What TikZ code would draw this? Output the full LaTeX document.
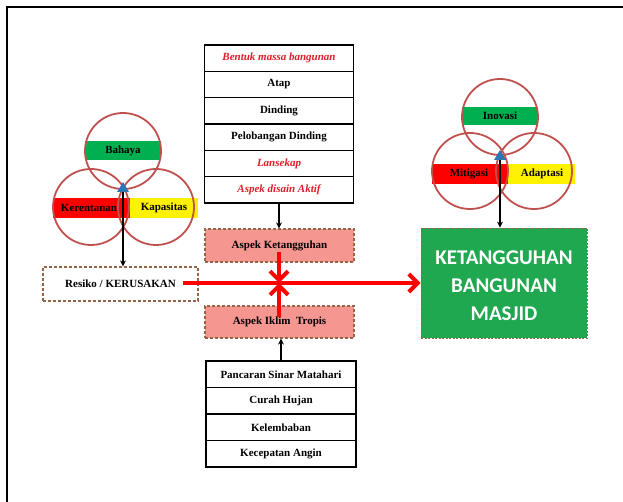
\documentclass[tikz,border=0pt]{standalone}
\usepackage{fontspec}
\setmainfont{Liberation Serif}
\newfontfamily\calib{Carlito}
\usetikzlibrary{arrows.meta}
\definecolor{circ}{RGB}{192,80,77}
\definecolor{redt}{RGB}{220,30,40}
\definecolor{salmon}{RGB}{245,150,145}
\definecolor{brn}{RGB}{150,100,70}
\definecolor{grn}{RGB}{0,176,80}
\definecolor{bgrn}{RGB}{32,168,80}
\definecolor{blu}{RGB}{46,117,182}
\tikzset{
  cell/.style={draw=black, line width=1.5, fill=white, minimum width=149, minimum height=26.33, inner sep=0, font=\bfseries\fontsize{11}{12}\selectfont},
  redcell/.style={cell, text=redt, font=\bfseries\itshape\fontsize{11}{12}\selectfont},
  pinkbox/.style={draw=brn, dash pattern=on 3pt off 2pt, line width=1.2, fill=salmon, minimum width=149, inner sep=0, font=\bfseries\fontsize{11}{12}\selectfont},
  blk/.style={draw=black, line width=1.3, -{Stealth[length=6pt,width=6pt]}},
  redarr/.style={draw=red, line width=4, -{Straight Barb[length=9pt,width=18pt]}},
  vc/.style={draw=circ, line width=1.8},
  lbl/.style={font=\bfseries\fontsize{11}{12}\selectfont, inner sep=0},
}
\begin{document}
\begin{tikzpicture}[x=1pt,y=-1pt]
\useasboundingbox (0,0) rectangle (623,502);
\draw[line width=2] (7,502) -- (7,7) -- (623,7);

% top stack
\node[redcell] (s1) at (279,58.17) {Bentuk massa bangunan};
\node[cell] (s2) at (279,84.5) {Atap};
\node[cell] (s3) at (279,110.83) {Dinding};
\node[cell] (s4) at (279,137.17) {Pelobangan Dinding};
\node[redcell] (s5) at (279,163.5) {Lansekap};
\node[redcell] (s6) at (279,189.83) {Aspek disain Aktif};

% pink boxes
\node[pinkbox, minimum height=33] (ket) at (279.5,245.5) {Aspek Ketangguhan};
\node[pinkbox, minimum height=32] (ikl) at (279.5,322) {Aspek Iklim~ Tropis};

% bottom stack
\node[cell, minimum width=150, minimum height=26.5] (b1) at (281,374.25) {Pancaran Sinar Matahari};
\node[cell, minimum width=150, minimum height=26.5] (b2) at (281,400.75) {Curah Hujan};
\node[cell, minimum width=150, minimum height=26.5] (b3) at (281,427.25) {Kelembaban};
\node[cell, minimum width=150, minimum height=26.5] (b4) at (281,453.75) {Kecepatan Angin};

\draw[blk] (s6.south) -- (s6.south |- ket.north);
\draw[blk] (b1.north) -- (b1.north |- ikl.south);

% resiko box
\node[draw=brn, dash pattern=on 3pt off 2pt, line width=1.2, fill=white, minimum width=155, minimum height=34, inner sep=0, font=\bfseries\fontsize{11}{12}\selectfont] (res) at (120.5,284) {Resiko / KERUSAKAN};

% green box
\node[draw=brn, dash pattern=on 2pt off 1.5pt, line width=0.8, fill=bgrn, minimum width=166, minimum height=110, inner sep=0] (grnbox) at (504,283) {};
\node[text=white, align=center, inner sep=0, font=\calib\bfseries\fontsize{21}{28}\selectfont] (gtxt) at (504,286) {KETANGGUHAN\\BANGUNAN\\MASJID};

% red arrows
\coordinate (x0) at (279,283);
\coordinate (kt) at (279,252);
\coordinate (ik) at (279,317);
\coordinate (rs) at (183,283);
\draw[redarr] (rs) -- (grnbox.west |- rs);
\draw[redarr] (kt) -- (x0);
\draw[redarr] (ik) -- (x0);

% left venn
\fill[grn] (85,141) rectangle (161,160);
\fill[red] (53,198) rectangle (130,218);
\fill[yellow] (130,198) rectangle (198,218);
\draw[vc] (123,151) circle (38);
\draw[vc] (91,207) circle (38);
\draw[vc] (156,207) circle (38);
\node[lbl] (bah) at (123,150.5) {Bahaya};
\node[lbl] (ker) at (89,208) {Kerentanan};
\node[lbl] (kap) at (164,208) {Kapasitas};
\fill[blu] (117,192) -- (129,192) -- (123,182) -- cycle;
\coordinate (tL) at (123,192);
\draw[blk] (tL) -- (tL |- res.north);

% right venn
\fill[grn] (462,107) rectangle (538,125);
\fill[red] (432,164) rectangle (508,184);
\fill[yellow] (508,164) rectangle (575,184);
\draw[vc] (500,117) circle (38);
\draw[vc] (470,171) circle (38);
\draw[vc] (534,171) circle (38);
\node[lbl] (ino) at (500,116) {Inovasi};
\node[lbl] (mit) at (469,174) {Mitigasi};
\node[lbl] (ada) at (542,174) {Adaptasi};
\fill[blu] (494,160) -- (506,160) -- (500,150) -- cycle;
\coordinate (tR) at (500,160);
\draw[blk] (tR) -- (tR |- grnbox.north);
\end{tikzpicture}
\end{document}
